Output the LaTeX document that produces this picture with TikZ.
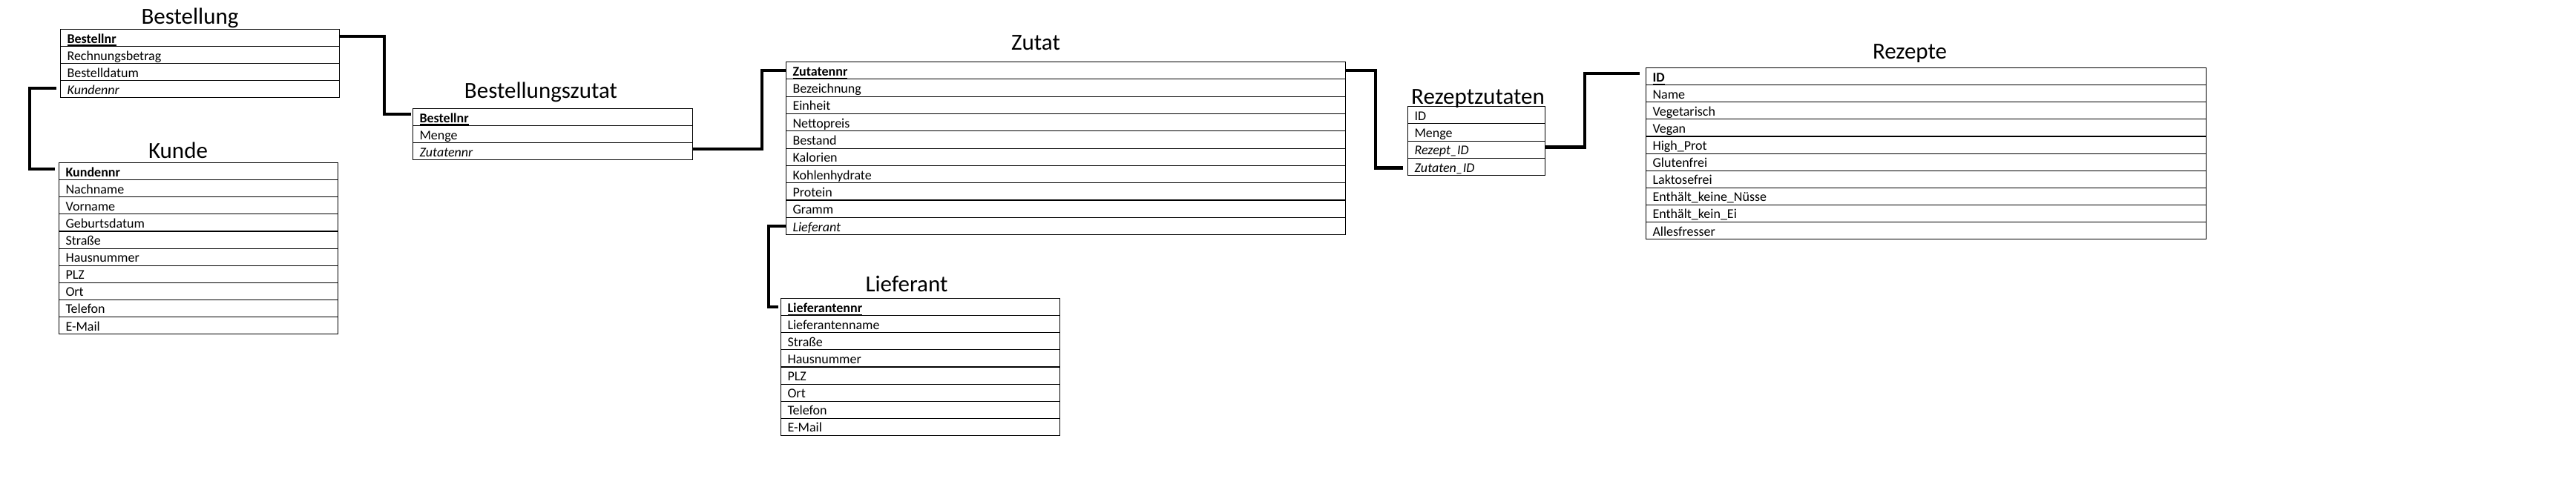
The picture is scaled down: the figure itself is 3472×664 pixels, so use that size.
\documentclass[tikz,border=0pt]{standalone}
\usepackage{fontspec}
\setmainfont{Carlito}
\newcommand\pkul[1]{\setbox0=\hbox{#1}\rlap{\rule[-4pt]{\wd0}{1.6pt}}\box0}
\tikzset{
  rowbox/.style={draw, line width=1.1pt, inner xsep=9pt, inner ysep=0pt, align=left,
    font=\fontsize{18}{22}\selectfont, text depth=4.5pt},
  tabtitle/.style={font=\fontsize{31}{36}\selectfont, inner sep=0pt, anchor=base},
  conn/.style={line width=4.5pt, line join=miter}
}
\newcommand\ertable[6]{%
  \foreach \rowtext [count=\i] in {#6} {%
    \pgfmathsetmacro\rowtw{#4-18}%
    \pgfmathsetmacro\rowh{#5-4.5}%
    \pgfmathsetmacro\rowy{#3+(\i-1)*#5}%
    \node[rowbox, text width=\rowtw pt, text height=\rowh pt, anchor=north west] (#1-\i) at (#2,\rowy) {\rowtext};
  }}
\begin{document}
\begin{tikzpicture}[x=1pt,y=-1pt]
\useasboundingbox (0,0) rectangle (3472,664);
\fill[white] (0,0) rectangle (3472,664);

% titles
\node[tabtitle] (t-bes) at (256,32) {Bestellung};
\node[tabtitle] (t-kun) at (240,213) {Kunde};
\node[tabtitle] (t-bz) at (729,132) {Bestellungszutat};
\node[tabtitle] (t-zu) at (1396,67) {Zutat};
\node[tabtitle] (t-li) at (1222,393) {Lieferant};
\node[tabtitle] (t-rz) at (1992,140) {Rezeptzutaten};
\node[tabtitle] (t-re) at (2574,79) {Rezepte};

% tables
\ertable{bes}{81}{39}{376}{23}{\textbf{\pkul{Bestellnr}}, Rechnungsbetrag, Bestelldatum, \textit{Kundennr}}
\ertable{kun}{79}{219}{376}{23.1}{\textbf{Kundennr}, Nachname, Vorname, Geburtsdatum, Straße, Hausnummer, PLZ, Ort, Telefon, E-Mail}
\ertable{bz}{556}{146}{377}{23}{\textbf{\pkul{Bestellnr}}, Menge, \textit{Zutatennr}}
\ertable{zu}{1059}{83}{754}{23.3}{\textbf{\pkul{Zutatennr}}, Bezeichnung, Einheit, Nettopreis, Bestand, Kalorien, Kohlenhydrate, Protein, Gramm, \textit{Lieferant}}
\ertable{li}{1052}{402}{376}{23.1}{\textbf{\pkul{Lieferantennr}}, Lieferantenname, Straße, Hausnummer, PLZ, Ort, Telefon, E-Mail}
\ertable{rz}{1897}{143}{185}{23.25}{ID, Menge, \textit{Rezept\_ID}, \textit{Zutaten\_ID}}
\ertable{re}{2218}{91}{755}{23.1}{\textbf{\pkul{ID}}, Name, Vegetarisch, Vegan, High\_Prot, Glutenfrei, Laktosefrei, Enthält\_keine\_Nüsse, Enthält\_kein\_Ei, Allesfresser}

% connectors
\draw[conn] ([xshift=-5pt,yshift=1pt]bes-4.west) -- ++(-36,0) |- ([xshift=-5pt,yshift=3pt]kun-1.west);
\draw[conn] ([yshift=2pt]bes-1.east) -- ++(60,0) |- ([xshift=-2pt,yshift=4pt]bz-1.west);
\draw[conn] ([yshift=3pt]bz-3.east) -- ++(93,0) |- (zu-1.west);
\draw[conn] (zu-1.east) -- ++(40,0) |- ([xshift=-6pt,yshift=-1.5pt]rz-4.west);
\draw[conn] ([yshift=3pt]rz-3.east) -- ++(53,0) |- ([xshift=-8pt,yshift=4pt]re-1.west);
\draw[conn] (zu-10.west) -- ++(-23,0) |- ([xshift=-3pt]li-1.west);
\end{tikzpicture}
\end{document}
